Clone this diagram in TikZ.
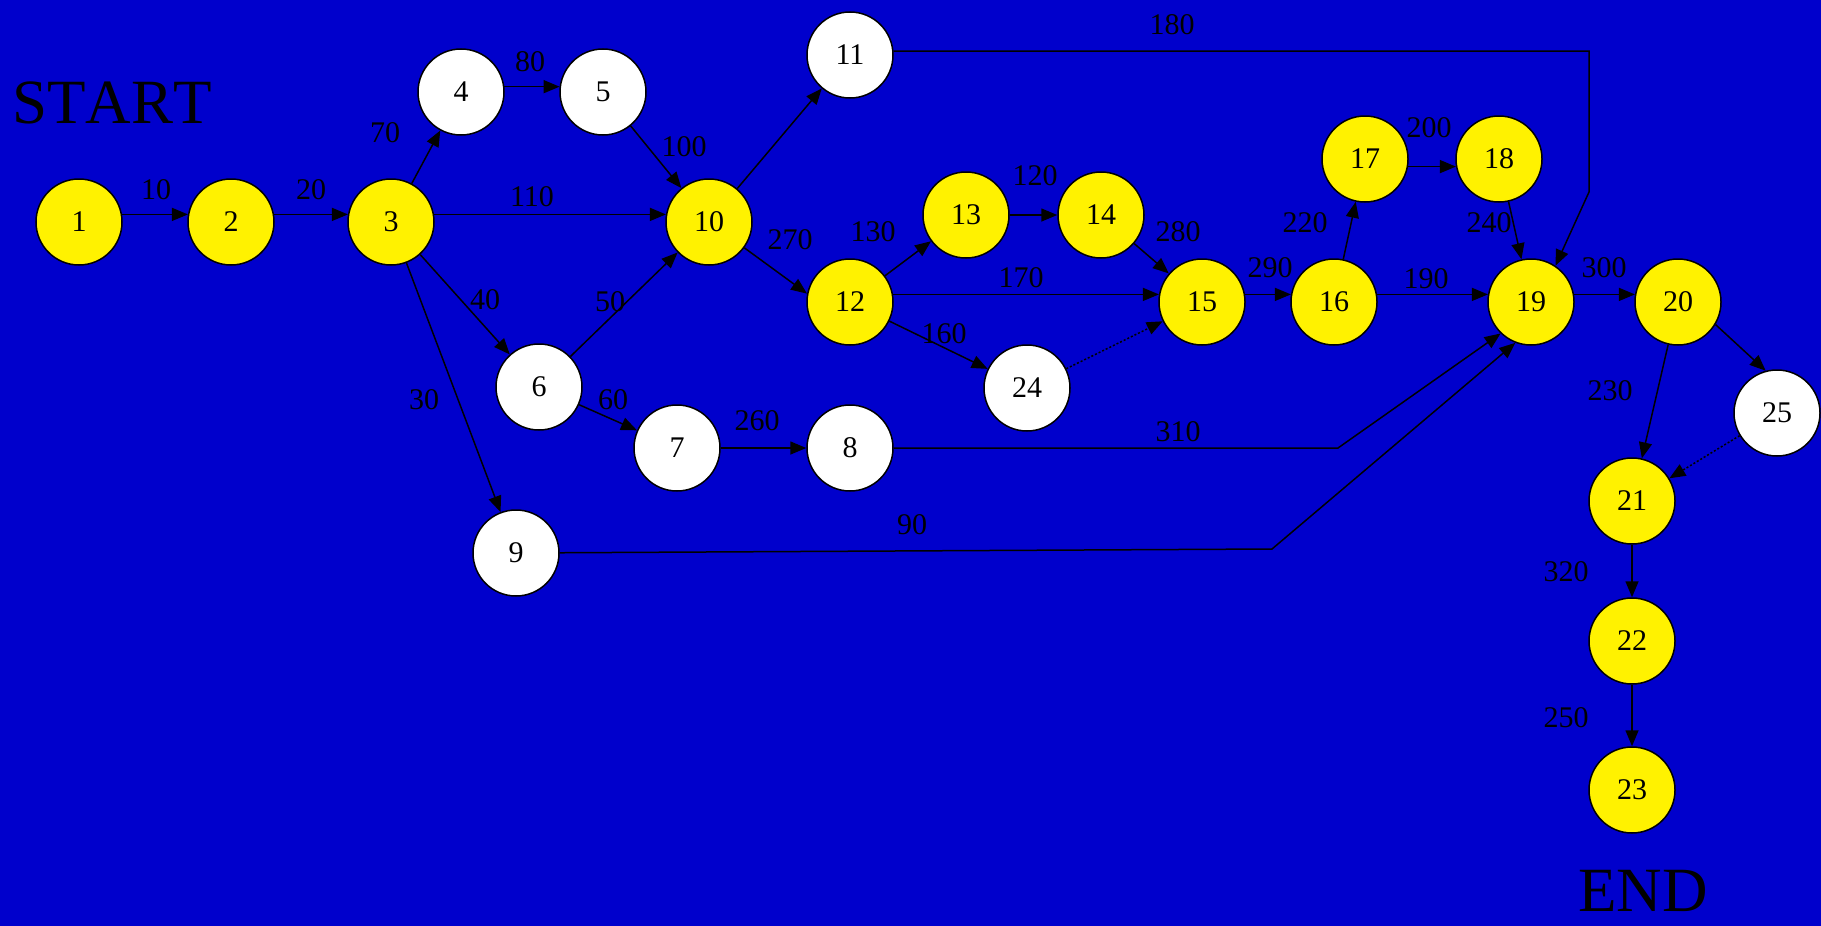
\documentclass[tikz,border=0pt]{standalone}
\usepackage{fontspec}
\setmainfont{Liberation Serif}
\newfontfamily\bigserif{Liberation Serif}[Kerning=Off]
\usetikzlibrary{arrows.meta}
\definecolor{bgblue}{RGB}{0,0,204}
\begin{document}
\begin{tikzpicture}[x=0.5pt,y=-0.5pt,
  task/.style={circle, draw=black, line width=0.75pt, minimum size=43pt, inner sep=0pt, font=\fontsize{15}{15}\selectfont},
  crit/.style={task, fill=yellow},
  free/.style={task, fill=white},
  edge/.style={line width=0.75pt, -{Triangle[length=8pt,width=6.5pt]}},
  dummy/.style={edge, dash pattern=on 1pt off 1pt},
  lbl/.style={font=\fontsize{15}{15}\selectfont, inner sep=0pt},
  big/.style={font=\bigserif\fontsize{31.5}{31.5}\selectfont, inner sep=0pt}]
\fill[bgblue] (0,0) rectangle (1821,926);
\useasboundingbox (0,0) rectangle (1821,926);

% nodes
\node[crit] (n1) at (79,222) {1};
\node[crit] (n2) at (231,222) {2};
\node[crit] (n3) at (391,222) {3};
\node[free] (n4) at (461,92) {4};
\node[free] (n5) at (603,92) {5};
\node[free] (n6) at (539,387) {6};
\node[free] (n7) at (677,448) {7};
\node[free] (n8) at (850,448) {8};
\node[free] (n9) at (516,553) {9};
\node[crit] (n10) at (709,222) {10};
\node[free] (n11) at (850,55) {11};
\node[crit] (n12) at (850,302) {12};
\node[crit] (n13) at (966,215) {13};
\node[crit] (n14) at (1101,215) {14};
\node[crit] (n15) at (1202,302) {15};
\node[crit] (n16) at (1334,302) {16};
\node[crit] (n17) at (1365,159) {17};
\node[crit] (n18) at (1499,159) {18};
\node[crit] (n19) at (1531,302) {19};
\node[crit] (n20) at (1678,302) {20};
\node[crit] (n21) at (1632,501) {21};
\node[crit] (n22) at (1632,641) {22};
\node[crit] (n23) at (1632,790) {23};
\node[free] (n24) at (1027,388) {24};
\node[free] (n25) at (1777,413) {25};

\node[big, anchor=base west] (start) at (12,123) {START};
\node[big, anchor=base] (end) at (1643,911) {END};

% bend points
\coordinate (c11) at (1589,192);
\coordinate (c8) at (1338,448);
\coordinate (c9) at (1272,549);

% edges
\draw[edge] (n1.10) -- (n2.170);
\draw[edge] (n2.10) -- (n3.170);
\draw[edge] (n3) -- (n4);
\draw[edge] (n4.7) -- (n5.173);
\draw[edge] (n5) -- (n10);
\draw[edge] (n3.10) -- (n10.170);
\draw[edge] (n3) -- (n6);
\draw[edge] (n6) -- (n10);
\draw[edge] (n3) -- (n9);
\draw[edge] (n6) -- (n7);
\draw[edge] (n7) -- (n8);
\draw[edge] (n8) -- (c8) -- (n19.226);
\draw[edge] (n9) -- (c9) -- (n19.249);
\draw[edge] (n10) -- (n11);
\draw[edge] (n11.5) -| (c11) -- (n19.56);
\draw[edge] (n10) -- (n12.169);
\draw[edge] (n12) -- (n13);
\draw[edge] (n13) -- (n14);
\draw[edge] (n14) -- (n15);
\draw[edge] (n12.10) -- (n15.170);
\draw[edge] (n12) -- (n24);
\draw[dummy] (n24) -- (n15);
\draw[edge] (n15.10) -- (n16.170);
\draw[edge] (n16) -- (n17);
\draw[edge] (n17.-10) -- (n18.190);
\draw[edge] (n18) -- (n19);
\draw[edge] (n16.10) -- (n19.170);
\draw[edge] (n19.10) -- (n20.170);
\draw[edge] (n20) -- (n21);
\draw[edge] (n20.-31) -- (n25.105);
\draw[dummy] (n25) -- (n21);
\draw[edge] (n21) -- (n22);
\draw[edge] (n22) -- (n23);

% labels
\node[lbl] (l10) at (156,190) {10};
\node[lbl] (l20) at (311,190) {20};
\node[lbl] (l70) at (385,133) {70};
\node[lbl] (l80) at (530,62) {80};
\node[lbl] (l100) at (684,147) {100};
\node[lbl] (l110) at (532,197) {110};
\node[lbl] (l40) at (485,300) {40};
\node[lbl] (l50) at (610,302) {50};
\node[lbl] (l30) at (424,400) {30};
\node[lbl] (l60) at (613,400) {60};
\node[lbl] (l180) at (1172,25) {180};
\node[lbl] (l270) at (790,240) {270};
\node[lbl] (l130) at (873,232) {130};
\node[lbl] (l120) at (1035,176) {120};
\node[lbl] (l280) at (1178,232) {280};
\node[lbl] (l290) at (1270,268) {290};
\node[lbl] (l170) at (1021,278) {170};
\node[lbl] (l160) at (944,334) {160};
\node[lbl] (l260) at (757,421) {260};
\node[lbl] (l310) at (1178,432) {310};
\node[lbl] (l90) at (912,525) {90};
\node[lbl] (l200) at (1429,128) {200};
\node[lbl] (l220) at (1305,223) {220};
\node[lbl] (l240) at (1489,223) {240};
\node[lbl] (l190) at (1426,279) {190};
\node[lbl] (l300) at (1604,268) {300};
\node[lbl] (l230) at (1610,391) {230};
\node[lbl] (l320) at (1566,572) {320};
\node[lbl] (l250) at (1566,718) {250};
\end{tikzpicture}
\end{document}
